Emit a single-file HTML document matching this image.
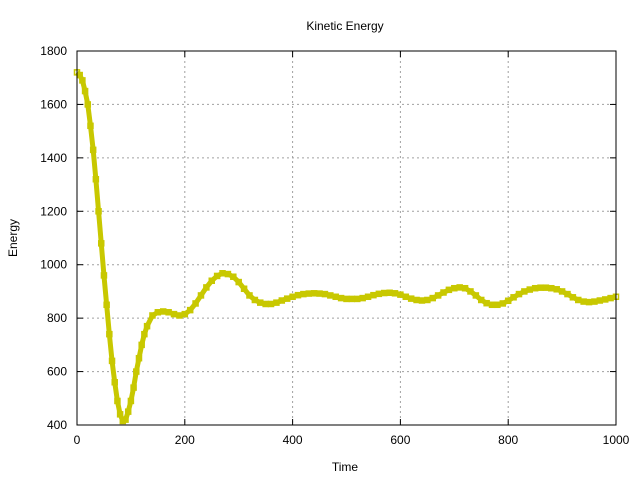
<!DOCTYPE html>
<html><head><meta charset="utf-8"><style>
body{margin:0;background:#fff}
svg{display:block;font-family:"Liberation Sans",sans-serif;font-size:12px}
</style></head><body>
<svg width="640" height="480">
<rect width="640" height="480" fill="#fff"/>
<g id="grid"></g>
<g id="series"></g>
<rect x="77" y="51" width="539" height="374" fill="none" stroke="#000"/>
<g id="ticks"></g>
<text x="345" y="30" text-anchor="middle">Kinetic Energy</text>
<text x="345" y="471" text-anchor="middle">Time</text>
<text x="17" y="238" text-anchor="middle" transform="rotate(-90 17 238)">Energy</text>
</svg>
<script>
const xTicks=[0,200,400,600,800,1000];
const yTicks=[400,600,800,1000,1200,1400,1600,1800];
const times=[0,5,10,15,20,25,30,35,40,45,50,55,60,65,70,75,80,85,90,95,100,105,110,115,120,125,130,140,150,160,170,180,190,200,210,220,230,240,250,260,270,280,290,300,310,320,330,340,350,360,370,380,390,400,410,420,430,440,450,460,470,480,490,500,510,520,530,540,550,560,570,580,590,600,610,620,630,640,650,660,670,680,690,700,710,720,730,740,750,760,770,780,790,800,810,820,830,840,850,860,870,880,890,900,910,920,930,940,950,960,970,980,990,1000];
const energy=[1720,1710,1690,1650,1600,1520,1430,1320,1200,1080,960,850,740,640,560,490,440,415,420,450,490,540,600,650,700,740,770,810,822,825,822,815,810,815,830,855,885,915,940,958,968,965,955,935,910,885,868,858,853,853,858,866,873,880,886,890,892,893,892,890,885,880,875,872,872,872,875,880,886,891,894,895,893,888,880,873,868,866,868,875,885,896,906,912,915,912,900,885,868,856,850,850,855,865,878,890,900,907,912,914,914,912,908,900,890,878,868,862,860,862,866,870,875,880];
const NS='http://www.w3.org/2000/svg';
const X=v=>77+v*539/1000, Y=v=>425-(v-400)*374/1400;
function mk(t,a,p){const e=document.createElementNS(NS,t);for(const k in a)e.setAttribute(k,a[k]);p.appendChild(e);return e;}
const grid=document.getElementById('grid'),ticks=document.getElementById('ticks'),ser=document.getElementById('series');
xTicks.forEach(v=>{
 if(v>0&&v<1000){const l=mk('line',{x1:X(v),x2:X(v),y1:51,y2:425,stroke:'#a0a0a0','stroke-dasharray':'2,3'},grid);
 }
 const t=mk('line',{x1:X(v),x2:X(v),y1:425,y2:419,stroke:'#000'},ticks);
 
 const t2=mk('line',{x1:X(v),x2:X(v),y1:51,y2:57,stroke:'#000'},ticks);
 
 const tx=mk('text',{x:X(v),y:444,'text-anchor':'middle'},ticks);tx.textContent=v;
 
});
yTicks.forEach(v=>{
 if(v>400&&v<1800){const l=mk('line',{x1:77,x2:616,y1:Y(v),y2:Y(v),stroke:'#a0a0a0','stroke-dasharray':'2,3'},grid);
 }
 const t=mk('line',{x1:77,x2:83,y1:Y(v),y2:Y(v),stroke:'#000'},ticks);
 
 const t2=mk('line',{x1:610,x2:616,y1:Y(v),y2:Y(v),stroke:'#000'},ticks);
 
 const tx=mk('text',{x:67,y:Y(v)+4,'text-anchor':'end'},ticks);tx.textContent=v;
 
});
const pts=times.map((t,i)=>X(t)+','+Y(energy[i])).join(' ');
const pl=mk('polyline',{points:pts,fill:'none',stroke:'#c8c800','stroke-width':5,'stroke-linejoin':'round'},ser);

times.forEach((t,i)=>{
 const r=mk('rect',{x:X(t)-2.5,y:Y(energy[i])-2.5,width:5,height:5,fill:'none',stroke:'#c8c800','stroke-width':1.5},ser);
 
});
</script>
</body></html>
